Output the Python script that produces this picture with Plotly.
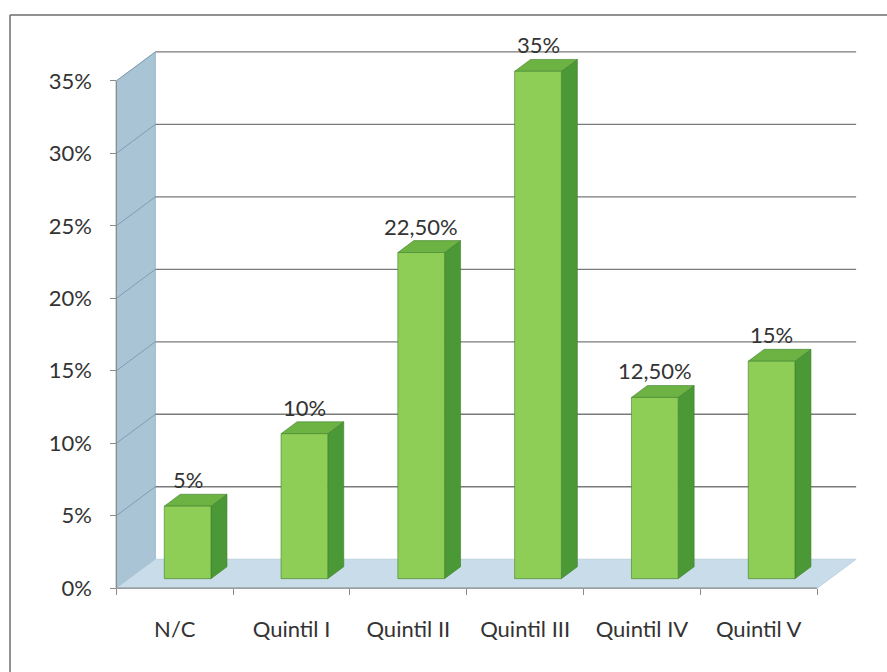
import plotly.graph_objects as go

# ---------------- data ----------------
categories = ["N/C", "Quintil I", "Quintil II", "Quintil III", "Quintil IV", "Quintil V"]
values = [5, 10, 22.5, 35, 12.5, 15]
value_labels = ["5%", "10%", "22,50%", "35%", "12,50%", "15%"]
y_ticks = [0, 5, 10, 15, 20, 25, 30, 35]
y_tick_labels = ["0%", "5%", "10%", "15%", "20%", "25%", "30%", "35%"]

# ---------------- 3D geometry (data units) ----------------
DX, DY = 0.334, 2.0          # depth offset of the back wall
D0, D1 = 0.33, 0.74          # bar depth extent (fraction of depth)
W = 0.40                     # bar width (category units)
X0, X1 = -0.5, len(categories) - 0.5
XR = [-0.52, X1 + DX + 0.016]
YR = [-0.4, 37.2]
YMAX = 35

W_PX, H_PX = 887, 672
ML, MR, MT, MB = 114, 29, 49, 78

FRONT = "#8fce56"
SIDE = "#4b9837"
TOP = "#6cb344"
EDGE = "#3f7f2c"
WALL = "#a8c4d5"
FLOOR = "#c8dde9"
GRID = "#7a7a7a"
TXT = "#333333"
FONT = "Lato"
FS = 22

shapes = []


def poly(pts, fill, line=None, width=0.0):
    path = "M " + " L ".join(f"{x:.4f},{y:.4f}" for x, y in pts) + " Z"
    shapes.append(dict(type="path", path=path, xref="x", yref="y",
                       fillcolor=fill, line=dict(color=line or fill, width=width)))


def seg(x0, y0, x1, y1, color, width=1.0):
    shapes.append(dict(type="line", xref="x", yref="y", x0=x0, y0=y0, x1=x1, y1=y1,
                       line=dict(color=color, width=width)))


# left wall
poly([(X0, 0), (X0, YMAX), (X0 + DX, YMAX + DY), (X0 + DX, DY)], WALL, "#8fb0c4", 0.8)
# floor
poly([(X0, 0), (X1, 0), (X1 + DX, DY), (X0 + DX, DY)], FLOOR, "#b5ccd9", 0.8)

# gridlines on back wall and left wall
for t in y_ticks[1:]:
    seg(X0 + DX, t + DY, X1 + DX, t + DY, GRID, 1.3)
    seg(X0, t, X0 + DX, t + DY, "rgba(95,125,145,0.55)", 1.0)

# axis lines
seg(X0, 0, X0, YMAX, "#8a8a8a", 1.2)
seg(X0, 0, X1, 0, "#8a8a8a", 1.2)

# bars
annotations = []
for i, v in enumerate(values):
    fx0 = i - W / 2 + D0 * DX
    fx1 = i + W / 2 + D0 * DX
    fy0 = D0 * DY
    fy1 = v + D0 * DY
    bx = (D1 - D0) * DX
    by = (D1 - D0) * DY
    # side face
    poly([(fx1, fy0), (fx1 + bx, fy0 + by), (fx1 + bx, fy1 + by), (fx1, fy1)], SIDE, EDGE, 0.6)
    # top face
    poly([(fx0, fy1), (fx1, fy1), (fx1 + bx, fy1 + by), (fx0 + bx, fy1 + by)], TOP, EDGE, 0.6)
    # front face
    poly([(fx0, fy0), (fx1, fy0), (fx1, fy1), (fx0, fy1)], FRONT, EDGE, 0.6)
    annotations.append(dict(x=(fx0 + fx1) / 2, y=fy1, xref="x", yref="y", text=value_labels[i],
                            showarrow=False, yanchor="bottom", yshift=11,
                            font=dict(family=FONT, size=FS, color=TXT)))

# outer frame (top and left border)
plot_w = W_PX - ML - MR
plot_h = H_PX - MT - MB
px_left = (10 - ML) / plot_w
py_top = (H_PX - MB - 15) / plot_h
shapes.append(dict(type="line", xref="paper", yref="paper", x0=px_left, x1=1.2, y0=py_top, y1=py_top,
                   line=dict(color="#6e6e6e", width=1.5)))
shapes.append(dict(type="line", xref="paper", yref="paper", x0=px_left, x1=px_left, y0=-0.3, y1=py_top,
                   line=dict(color="#6e6e6e", width=1.5)))

fig = go.Figure()
fig.add_trace(go.Scatter(x=list(range(len(categories))), y=values, mode="markers",
                         marker=dict(opacity=0), hoverinfo="skip", showlegend=False))

x_axis_pos = (0 - YR[0]) / (YR[1] - YR[0])
y_axis_pos = (X0 - XR[0]) / (XR[1] - XR[0])

fig.update_layout(
    width=W_PX, height=H_PX,
    margin=dict(l=ML, r=MR, t=MT, b=MB),
    paper_bgcolor="white", plot_bgcolor="white",
    showlegend=False,
    shapes=shapes,
    annotations=annotations,
    xaxis=dict(range=XR, showgrid=False, zeroline=False, showline=False,
               anchor="free", position=x_axis_pos,
               tickmode="array", tickvals=list(range(len(categories))), ticktext=categories,
               ticks="", ticklabelstandoff=26,
               tickfont=dict(family=FONT, size=FS, color=TXT),
               minor=dict(tickmode="array", tickvals=[k - 0.5 for k in range(len(categories) + 1)],
                          ticks="outside", ticklen=6, tickcolor="#8a8a8a", tickwidth=1.2, showgrid=False)),
    yaxis=dict(range=YR, showgrid=False, zeroline=False, showline=False,
               anchor="free", position=y_axis_pos,
               tickmode="array", tickvals=y_ticks, ticktext=y_tick_labels,
               ticks="outside", ticklen=6, tickcolor="#8a8a8a", tickwidth=1.2,
               ticklabelstandoff=14,
               tickfont=dict(family=FONT, size=FS, color=TXT)),
)

fig.write_html("out.html")
